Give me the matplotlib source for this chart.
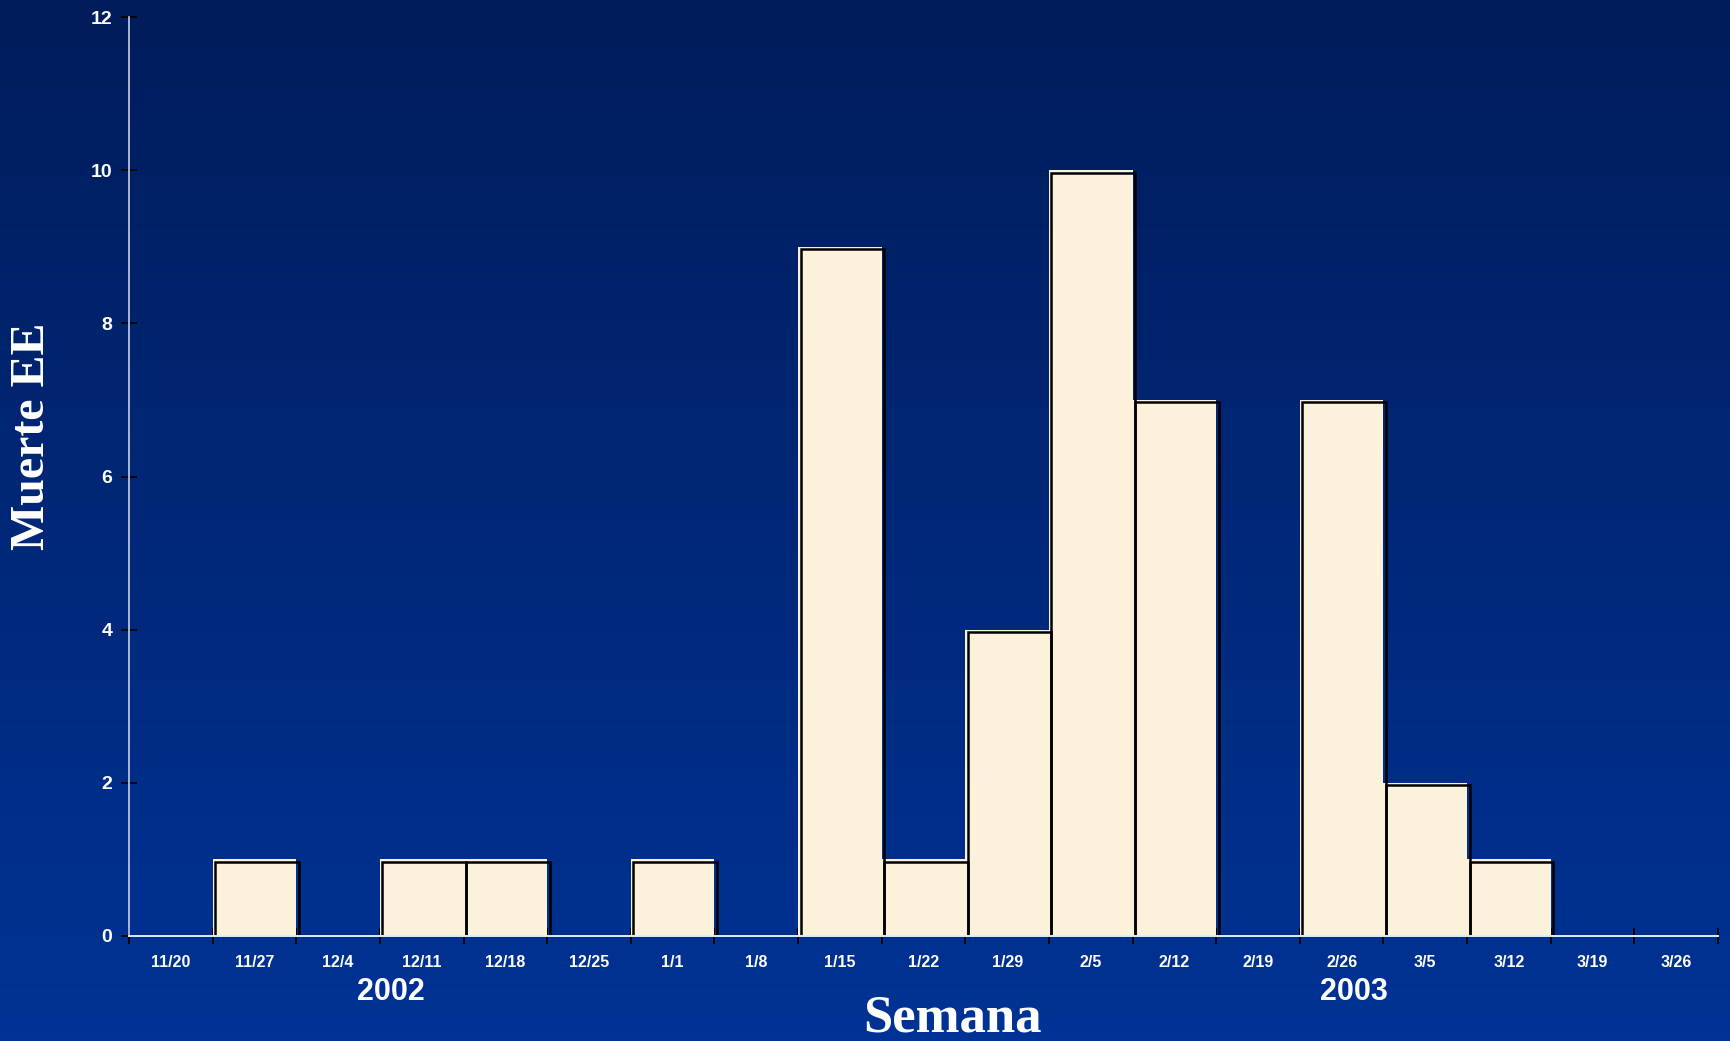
import numpy as np
import matplotlib
matplotlib.use("Agg")
import matplotlib.pyplot as plt
from matplotlib.transforms import ScaledTranslation
from matplotlib.colors import LinearSegmentedColormap

# Weekly deaths
weeks = ["11/20", "11/27", "12/4", "12/11", "12/18", "12/25", "1/1", "1/8",
         "1/15", "1/22", "1/29", "2/5", "2/12", "2/19", "2/26", "3/5",
         "3/12", "3/19", "3/26"]
deaths = [0, 1, 0, 1, 1, 0, 1, 0, 9, 1, 4, 10, 7, 0, 7, 2, 1, 0, 0]
yticks = [0, 2, 4, 6, 8, 10, 12]
years = ["2002", "2003"]
year_pos = [2.63, 14.15]  # category positions of the year captions

W, H, DPI = 1730, 1041, 100
fig = plt.figure(figsize=(W / DPI, H / DPI), dpi=DPI)

# Background gradient: dark navy at top to brighter blue at bottom
bg = fig.add_axes([0, 0, 1, 1], zorder=-10)
grad = np.linspace(0, 1, 256).reshape(-1, 1)
cmap = LinearSegmentedColormap.from_list("bg", ["#001C5A", "#003396"])
bg.imshow(grad, aspect="auto", cmap=cmap, extent=[0, 1, 0, 1], origin="upper")
bg.set_axis_off()

ax = fig.add_axes([129 / W, 105 / H, (1718 - 129) / W, (936 - 17) / H])
ax.set_facecolor("none")

n = len(weeks)
x = np.arange(n)
cream = "#FCF1DA"

# Bar fills
ax.bar(x, deaths, width=1.0, color=cream, edgecolor="none", zorder=2, align="center")
# Black outlines shifted slightly right/down for a raised look
shift = ax.transData + ScaledTranslation(2.5 / DPI, -2.5 / DPI, fig.dpi_scale_trans)
for xi, v in zip(x, deaths):
    if v > 0:
        r = plt.Rectangle((xi - 0.5, 0), 1.0, v, facecolor="none",
                          edgecolor="black", linewidth=1.8, zorder=3,
                          transform=shift)
        ax.add_patch(r)

ax.set_xlim(-0.5, n - 0.5)
ax.set_ylim(0, 12)

for s in ["top", "right"]:
    ax.spines[s].set_visible(False)
ax.spines["left"].set_color("#C8D0E4")
ax.spines["left"].set_linewidth(1.2)
ax.spines["bottom"].set_color("#E6EAF4")
ax.spines["bottom"].set_linewidth(1.4)
ax.spines["bottom"].set_zorder(4)

ax.set_yticks(yticks)
ax.set_yticklabels([str(t) for t in yticks], color="white", fontsize=14,
                   fontweight="bold", family="Liberation Sans")
ax.tick_params(axis="y", direction="inout", length=12, width=1.2, color="black", pad=6)

# Labels at category centres, tick marks at category boundaries
ax.set_xticks(x)
ax.set_xticklabels(weeks, color="white", fontsize=11.5, fontweight="bold",
                   family="Liberation Sans")
ax.tick_params(axis="x", which="major", length=0, pad=14)
ax.set_xticks(np.arange(-0.5, n, 1.0), minor=True)
ax.tick_params(axis="x", which="minor", direction="inout", length=12, width=1.3,
               color="black")

for lab, pos in zip(years, year_pos):
    ax.text(pos, -0.73, lab, ha="center", va="center", color="white",
            fontsize=22, fontweight="bold", family="Liberation Sans",
            transform=ax.transData, clip_on=False)

fig.text(952 / W, 1 - 1018 / H, "Semana", ha="center", va="center",
         color="white", fontsize=38, fontweight="bold", family="Liberation Serif")
fig.text(32 / W, 1 - 436 / H, "Muerte EE", ha="center", va="center",
         rotation=90, color="white", fontsize=34.5, fontweight="bold",
         family="Liberation Serif")

fig.savefig("out.png", dpi=DPI)
